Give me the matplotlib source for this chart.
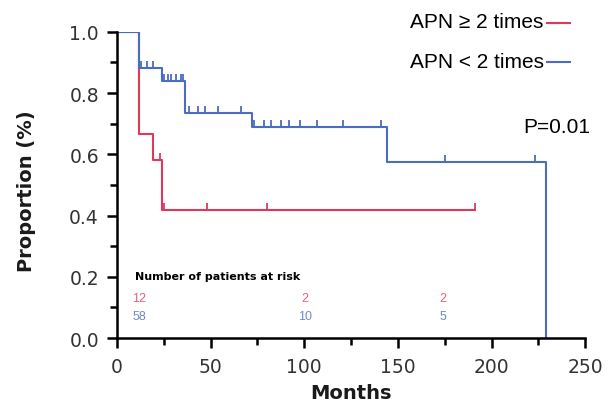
import numpy as np
import matplotlib
matplotlib.use("Agg")
from matplotlib import pyplot as plt
from matplotlib.markers import TICKUP

# step curves (month, survival after the step)
high_t = [0, 12, 19, 24, 191]
high_s = [1.0, 0.667, 0.583, 0.417, 0.417]
high_cens_t = [23, 25, 48, 80, 191]
high_cens_s = [0.583, 0.417, 0.417, 0.417, 0.417]

low_t = [0, 11.5, 24, 36.5, 72, 144, 229]
low_s = [1.0, 0.882, 0.84, 0.735, 0.69, 0.575, 0.0]
low_cens_t = [13, 16, 19.5, 25, 27, 29, 31.5, 34, 35.5, 38.5, 43, 47, 54, 66,
              73, 78.5, 82, 87.5, 92, 97.5, 107, 120.5, 141, 175, 223]
low_cens_s = [0.882] * 3 + [0.84] * 6 + [0.735] * 5 + [0.69] * 9 + [0.575] * 2

risk_months = [12, 100.5, 174]
risk_high = ["12", "2", "2"]
risk_low = ["58", "10", "5"]

red = "#e0385a"
blue = "#4b6cbf"


def main():
    fig = plt.figure(figsize=(6.08, 4.06), dpi=100)
    ax = fig.add_axes([0.1924, 0.165, 0.77, 0.754])

    ax.step(high_t, high_s, where="post", color=red, lw=1.5)
    ax.plot(high_cens_t, high_cens_s, ls="none", marker=TICKUP, ms=5, mew=1.3, color=red)
    ax.step(low_t, low_s, where="post", color=blue, lw=1.5)
    ax.plot(low_cens_t, low_cens_s, ls="none", marker=TICKUP, ms=5, mew=1.3, color=blue)

    ax.set_xlim(0, 250)
    ax.set_ylim(0, 1.0)
    ax.spines["top"].set_visible(False)
    ax.spines["right"].set_visible(False)
    ax.spines["left"].set_linewidth(1.8)
    ax.spines["bottom"].set_linewidth(1.8)
    ax.set_xticks(np.arange(0, 251, 50))
    ax.set_xticks(np.arange(25, 250, 50), minor=True)
    ax.set_yticks(np.arange(0, 1.01, 0.2))
    ax.set_yticks(np.arange(0.1, 1.0, 0.2), minor=True)
    ax.set_yticklabels(["0.0", "0.2", "0.4", "0.6", "0.8", "1.0"])
    ax.tick_params(which="major", length=7, width=1.8, direction="out",
                   labelsize=13.5, labelcolor="#333333")
    ax.tick_params(axis="x", which="major", pad=7)
    ax.tick_params(axis="y", which="major", pad=6)
    ax.tick_params(which="minor", length=5, width=1.8, direction="out")
    ax.set_ylabel("Proportion (%)", fontsize=14, fontweight="bold",
                  family="DejaVu Sans", va="center", color="#1a1a1a")
    ax.yaxis.set_label_coords(-0.194, 0.483)
    ax.set_xlabel("Months", fontsize=14, fontweight="bold",
                  family="DejaVu Sans", va="center", color="#1a1a1a")
    ax.xaxis.set_label_coords(0.5, -0.178)

    # legend drawn as text + short line
    fig.text(0.894, 0.944, "APN \u2265 2 times", ha="right", va="center",
             fontsize=15, family="Liberation Sans")
    fig.lines.append(plt.Line2D([0.9, 0.938], [0.941, 0.941], color=red,
                                lw=1.5, transform=fig.transFigure))
    fig.text(0.894, 0.847, "APN < 2 times", ha="right", va="center",
             fontsize=15, family="Liberation Sans")
    fig.lines.append(plt.Line2D([0.9, 0.938], [0.845, 0.845], color=blue,
                                lw=1.5, transform=fig.transFigure))
    fig.text(0.971, 0.687, "P=0.01", ha="right", va="center",
             fontsize=15, family="Liberation Sans")

    # number at risk table
    ax.text(9.5, 0.203, "Number of patients at risk", fontsize=8,
            fontweight="bold", family="Liberation Sans Narrow", va="center")
    for m, h, l in zip(risk_months, risk_high, risk_low):
        ax.text(m, 0.131, h, color=red, fontsize=9, family="Liberation Sans",
                ha="center", va="center", alpha=0.8)
        ax.text(m, 0.072, l, color=blue, fontsize=9, family="Liberation Sans",
                ha="center", va="center", alpha=0.8)

    fig.savefig("out.png", dpi=100)


if __name__ == "__main__":
    main()
